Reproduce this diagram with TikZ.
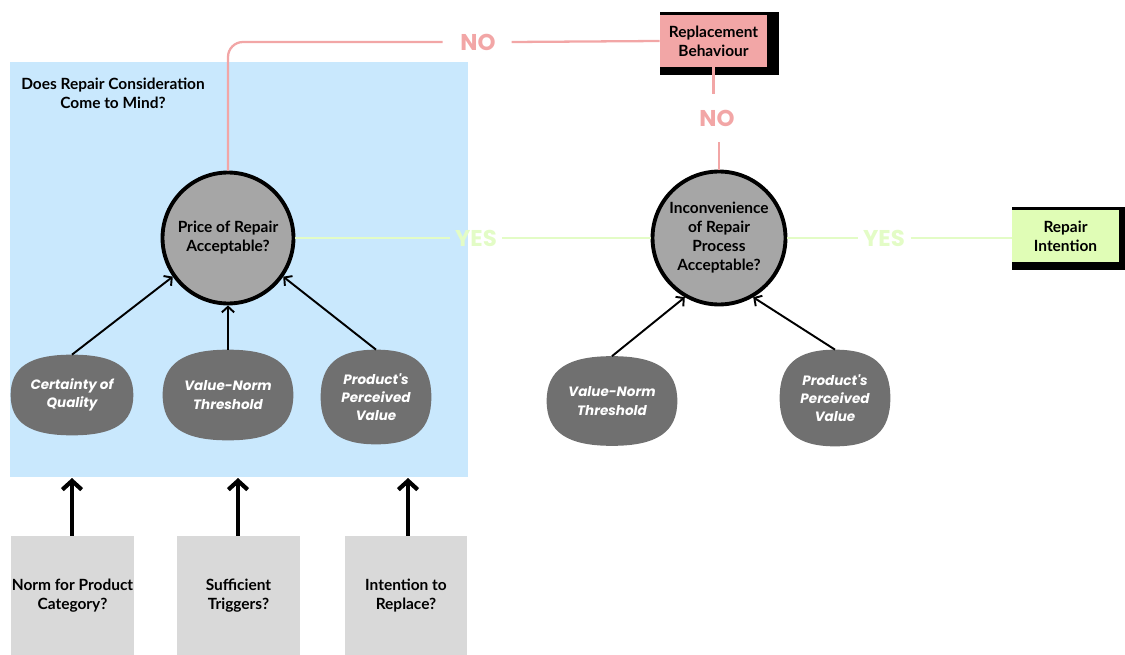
\documentclass[tikz,border=0pt]{standalone}
\usepackage{fontspec}
\setmainfont{Lato}
\newfontfamily\pop{Poppins}
\usetikzlibrary{arrows.meta,positioning,calc}
\pgfdeclarelayer{bg}
\pgfdeclarelayer{shp}
\pgfsetlayers{bg,shp,main}
\definecolor{bluebg}{HTML}{C9E8FD}
\definecolor{pinkc}{HTML}{F2A6A6}
\definecolor{greenc}{HTML}{E0FDB6}
\definecolor{greenl}{HTML}{E3FCC6}
\definecolor{circg}{HTML}{A6A6A6}
\definecolor{darkg}{HTML}{707070}
\definecolor{lightg}{HTML}{D9D9D9}
\newcommand{\sqk}{0.69}
\newcommand{\squirclefill}[1]{%
  \begin{pgfonlayer}{shp}
  \fill[darkg] (#1.east)
    .. controls ($(#1.east)!\sqk!(#1.north east)$) and ($(#1.north)!\sqk!(#1.north east)$) .. (#1.north)
    .. controls ($(#1.north)!\sqk!(#1.north west)$) and ($(#1.west)!\sqk!(#1.north west)$) .. (#1.west)
    .. controls ($(#1.west)!\sqk!(#1.south west)$) and ($(#1.south)!\sqk!(#1.south west)$) .. (#1.south)
    .. controls ($(#1.south)!\sqk!(#1.south east)$) and ($(#1.east)!\sqk!(#1.south east)$) .. (#1.east) -- cycle;
  \end{pgfonlayer}}
\tikzset{
  txt/.style={font=\fontsize{8.8}{10.8}\selectfont\bfseries, align=center, text=black},
  bigcirc/.style={circle, draw=black, line width=2.2pt, fill=circg, txt, inner sep=0pt},
  oval/.style={rectangle, text=white, align=center,
     font=\pop\fontsize{7.7}{10.4}\selectfont\bfseries\itshape, inner sep=0pt},
  gbox/.style={rectangle, fill=lightg, txt, minimum width=2.46cm, minimum height=2.38cm, inner sep=0pt},
  lbl/.style={font=\pop\fontsize{13}{13}\selectfont\bfseries, inner sep=0pt},
  noline/.style={draw=pinkc, line width=1.3pt},
  yesline/.style={draw=greenl, line width=1.3pt},
  thinarr/.style={draw=black, line width=1.1pt, -{Straight Barb[length=3.2pt,width=7pt]}},
  thickarr/.style={draw=black, line width=2.4pt, -{Straight Barb[length=5pt,width=11pt]}},
}
\begin{document}
\begin{tikzpicture}[x=0.02cm,y=-0.02cm]
\useasboundingbox (0,0) rectangle (1125,655);
% blue region
\begin{pgfonlayer}{bg}
\fill[bluebg] (10,62) rectangle (468,477);
\end{pgfonlayer}
\node[txt] (title) at (113,93) {Does Repair Consideration\\Come to Mind?};

% main circles
\node[bigcirc, minimum size=2.62cm] (c1) at (228,238) {Price of Repair\\Acceptable?};
\node[bigcirc, minimum size=2.66cm] (c2) at (719,238) {Inconvenience\\of Repair\\Process\\Acceptable?};

% outcome boxes with black offset shadow
\fill[black] (660,12) rectangle (779,75);
\node[rectangle, fill=pinkc, txt, minimum width=2.14cm, minimum height=1.04cm, inner sep=0pt] (rb) at (713.5,41) {Replacement\\Behaviour};
\fill[black] (1012,207) rectangle (1125,270);
\node[rectangle, fill=greenc, txt, minimum width=2.14cm, minimum height=1.04cm, inner sep=0pt] (ri) at (1065.5,236) {Repair\\Intention};

% labels
\node[lbl, text=pinkc] (no1) at (478,42) {NO};
\node[lbl, text=pinkc] (no2) at (717,118) {NO};
\node[lbl, text=greenl] (yes1) at (476,238) {YES};
\node[lbl, text=greenl] (yes2) at (884,238) {YES};

% connectors
\draw[noline, rounded corners=0.3cm] (c1.north) |- ([xshift=-10pt]no1.west);
\draw[noline] ([xshift=9pt]no1.east) -- (rb.west);
\draw[noline] (rb.south) -- ([yshift=9pt]rb.south |- no2.north);
\draw[noline] ([yshift=-9pt]c2.north |- no2.south) -- (c2.north);
\draw[yesline] (c1.east) -- ([xshift=-3pt]yes1.west);
\draw[yesline] ([xshift=3pt]yes1.east) -- (c2.west);
\draw[yesline] (c2.east) -- ([xshift=-3pt]yes2.west);
\draw[yesline] ([xshift=3pt]yes2.east) -- (c2.east -| ri.west);

% ovals
\node[oval, minimum width=2.44cm, minimum height=1.6cm] (o1) at (72,395) {Certainty of\\Quality};
\node[oval, minimum width=2.6cm, minimum height=1.8cm] (o2) at (228,395) {Value-Norm\\Threshold};
\node[oval, minimum width=2.2cm, minimum height=1.88cm] (o3) at (376,397) {Product's\\Perceived\\Value};
\node[oval, minimum width=2.6cm, minimum height=1.78cm] (o4) at (612,401) {Value-Norm\\Threshold};
\node[oval, minimum width=2.2cm, minimum height=1.92cm] (o5) at (835,398) {Product's\\Perceived\\Value};
\squirclefill{o1}
\squirclefill{o2}
\squirclefill{o3}
\squirclefill{o4}
\squirclefill{o5}

\draw[thinarr] (o1.north) -- (c1.215);
\draw[thinarr] (o2.north) -- (c1.south);
\draw[thinarr] (o3.north) -- (c1.325);
\draw[thinarr] (o4.north) -- (c2.240);
\draw[thinarr] (o5.north) -- (c2.300);

% bottom boxes
\node[gbox] (b1) at (72.5,595.5) {Norm for Product\\Category?};
\node[gbox] (b2) at (238.5,595.5) {Sufficient\\Triggers?};
\node[gbox] (b3) at (406,595.5) {Intention to\\Replace?};
\coordinate (t1) at (72,478);
\coordinate (t2) at (238,478);
\coordinate (t3) at (408,478);
\draw[thickarr] (b1.north -| t1) -- (t1);
\draw[thickarr] (b2.north -| t2) -- (t2);
\draw[thickarr] (b3.north -| t3) -- (t3);
\end{tikzpicture}
\end{document}
